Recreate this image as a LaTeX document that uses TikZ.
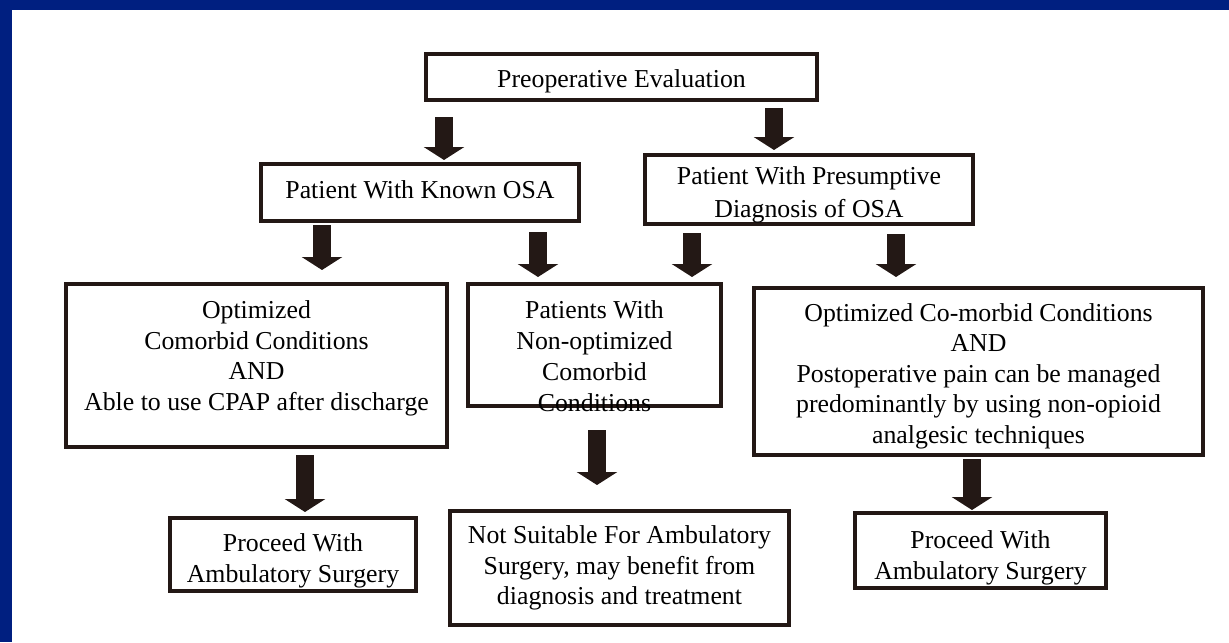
\documentclass[tikz,border=0pt]{standalone}
\usepackage{fontspec}
\setmainfont{Liberation Serif}
\usepackage{xcolor}
\usetikzlibrary{arrows.meta, positioning}
\definecolor{slideblue}{RGB}{0,31,128}
\definecolor{inkblack}{RGB}{35,24,21}

\begin{document}
\begin{tikzpicture}[x=0.5pt, y=-0.5pt,
    box/.style={draw=inkblack, line width=2pt, rectangle, inner sep=0pt},
    txt/.style={align=center, inner sep=0pt, font=\fontsize{12.9}{15.25}\selectfont},
    blk/.style={draw=inkblack, line width=9pt, -{Triangle[width=20pt, length=6.5pt]}}]
    % 背景
    \useasboundingbox (0,0) rectangle (1229,642);
    \fill[white] (0,0) rectangle (1229,642);
    \fill[slideblue] (0,0) rectangle (1229,10);
    \fill[slideblue] (0,0) rectangle (12,642);

    % 第一层
    \node[box, minimum width=195.5pt, minimum height=23pt] (preop) at (621.5,77) {};
    \node[txt, yshift=-2pt] (preopT) at (preop) {Preoperative Evaluation};

    % 第二层
    \node[box, minimum width=159pt, minimum height=28.5pt] (known) at (420,192.5) {};
    \node[txt, yshift=1.5pt] (knownT) at (known) {Patient With Known OSA};
    \node[box, minimum width=164pt, minimum height=34.5pt] (presum) at (809,189.5) {};
    \node[txt, yshift=-2.5pt, font=\fontsize{12.9}{16.5}\selectfont] (presumT) at (presum)
        {Patient With Presumptive\\Diagnosis of OSA};

    % 第三层
    \node[box, minimum width=190.5pt, minimum height=81.5pt] (optcpap) at (256.5,365.5) {};
    \node[txt, yshift=3.5pt] (optcpapT) at (optcpap)
        {Optimized\\Comorbid Conditions\\AND\\Able to use CPAP after discharge};
    \node[box, minimum width=126.5pt, minimum height=61pt] (nonopt) at (594.5,345) {};
    \node[txt, yshift=-5.75pt, font=\fontsize{12.9}{15.5}\selectfont] (nonoptT) at (nonopt)
        {Patients With\\Non-optimized\\Comorbid\\Conditions};
    \node[box, minimum width=224.5pt, minimum height=83.5pt] (optpain) at (978.5,371.5) {};
    \node[txt, yshift=-2.25pt] (optpainT) at (optpain)
        {Optimized Co-morbid Conditions\\AND\\Postoperative pain can be managed\\predominantly by using non-opioid\\analgesic techniques};

    % 第四层
    \node[box, minimum width=123pt, minimum height=36.5pt] (procL) at (293,554.5) {};
    \node[txt, yshift=-3.25pt] (procLT) at (procL) {Proceed With\\Ambulatory Surgery};
    \node[box, minimum width=169.5pt, minimum height=57pt] (notsuit) at (619.5,568) {};
    \node[txt] (notsuitT) at (notsuit)
        {Not Suitable For Ambulatory\\Surgery, may benefit from\\diagnosis and treatment};
    \node[box, minimum width=125.5pt, minimum height=37.5pt] (procR) at (980.5,550.5) {};
    \node[txt, yshift=-3.75pt] (procRT) at (procR) {Proceed With\\Ambulatory Surgery};

    % 箭头
    \foreach \n/\x/\ya/\yb in {1/444/117/160, 2/774/108/150, 3/322/225/270, 4/538/232/277,
                               5/692/233/277, 6/896/234/277, 7/305/455/512, 8/597/430/485, 9/972/459/510} {
        \coordinate (s\n) at (\x,\ya);
        \coordinate (e\n) at (\x,\yb);
        \draw[blk] (s\n) -- (e\n);
    }
\end{tikzpicture}
\end{document}
